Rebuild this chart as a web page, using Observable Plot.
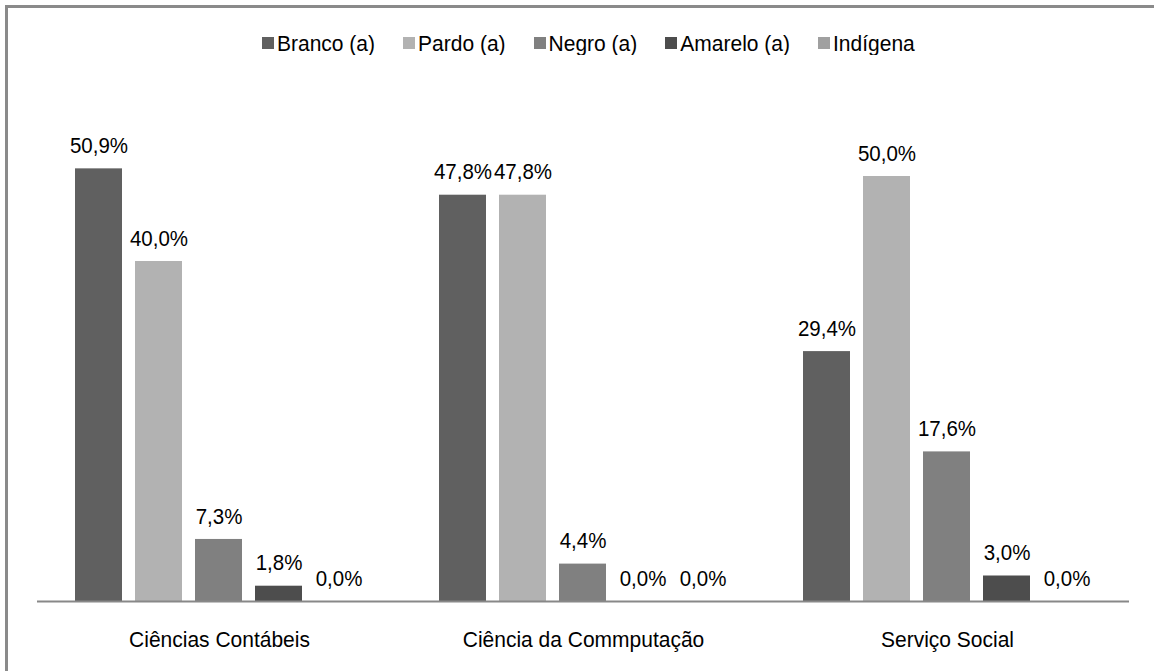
<!DOCTYPE html>
<html>
<head>
<meta charset="utf-8">
<script src="https://cdn.jsdelivr.net/npm/d3@7"></script>
<script src="https://cdn.jsdelivr.net/npm/@observablehq/plot@0.6"></script>
<style>
  html, body { margin: 0; padding: 0; background: #fff; }
  body { width: 1154px; height: 671px; overflow: hidden; position: relative;
         font-family: "Liberation Sans", Arial, sans-serif; }
  #frame { position: absolute; left: 5px; top: 5px; width: 1300px; height: 800px;
           border-left: 3px solid #8a8a8a; border-top: 3px solid #8a8a8a; pointer-events: none; }
  #legend { height: 80px; box-sizing: border-box; padding-top: 29px; padding-left: 262px;
            display: flex; align-items: flex-start; font-size: 21px; color: #000; line-height: 28px; }
  #legend .item { display: flex; align-items: center; margin-right: 28px; height: 28px; }
  #legend .sw { width: 12px; height: 12px; margin-right: 3px; }
  #legend .txt { display: inline-block; transform: scaleY(1.08); }
  #chart svg { display: block; }
</style>
</head>
<body>
<div id="frame"></div>
<div id="legend"></div>
<div id="chart"></div>
<script>
// Courses (groups) and self-declared race categories (series)
const courses = ["Ciências Contábeis", "Ciência da Commputação", "Serviço Social"];
const races = ["Branco (a)", "Pardo (a)", "Negro (a)", "Amarelo (a)", "Indígena"];
const colors = ["#606060", "#b2b2b2", "#808080", "#4d4d4d", "#a0a0a0"];

// Percentage per race, one array per course
const contabeis = [50.9, 40.0, 7.3, 1.8, 0.0];
const computacao = [47.8, 47.8, 4.4, 0.0, 0.0];
const servicoSocial = [29.4, 50.0, 17.6, 3.0, 0.0];

const valuesByCourse = [contabeis, computacao, servicoSocial];
const data = courses.flatMap((course, i) =>
  races.map((race, j) => ({course, race, value: valuesByCourse[i][j]}))
);

const fmt = v => v.toFixed(1).replace(".", ",") + "%";

// Legend row above the plot
const legend = document.getElementById("legend");
races.forEach((r, i) => {
  const item = document.createElement("div");
  item.className = "item";
  const sw = document.createElement("span");
  sw.className = "sw";
  sw.style.background = colors[i];
  const label = document.createElement("span");
  label.className = "txt";
  label.textContent = r;
  item.append(sw, label);
  legend.append(item);
});

const chart = Plot.plot({
  width: 1154,
  height: 591,
  marginTop: 11,
  marginBottom: 70,
  marginLeft: 36,
  marginRight: 24,
  style: {fontFamily: '"Liberation Sans", Arial, sans-serif', background: "#fff"},
  fx: {domain: courses, paddingInner: 0, paddingOuter: 0, label: null},
  x: {domain: races, paddingInner: 0.21, paddingOuter: 0.607, axis: null},
  y: {domain: [0, 60], axis: null},
  color: {domain: races, range: colors},
  marks: [
    Plot.barY(data, {fx: "course", x: "race", y: "value", fill: "race"}),
    Plot.text(data, {fx: "course", x: "race", y: "value", text: d => fmt(d.value),
                     dy: -23, fontSize: 20.5, fill: "#000"}),
    Plot.ruleY([0], {stroke: "#888", strokeWidth: 2}),
    Plot.axisFx({anchor: "bottom", tickSize: 0, tickPadding: 29, fontSize: 21, label: null, fill: "#000"})
  ]
});

// Slightly taller lettering: stretch each label vertically about its own anchor
chart.querySelectorAll("text").forEach(t => {
  const tr = t.getAttribute("transform") || "";
  const px = v => v != null && !/em$/.test(v) ? parseFloat(v) || 0 : 0;
  const x = px(t.getAttribute("x")), y = px(t.getAttribute("y"));
  t.setAttribute("transform", `${tr} translate(${x},${y}) scale(1,1.08) translate(${-x},${-y})`);
});

document.getElementById("chart").append(chart);
</script>
</body>
</html>
